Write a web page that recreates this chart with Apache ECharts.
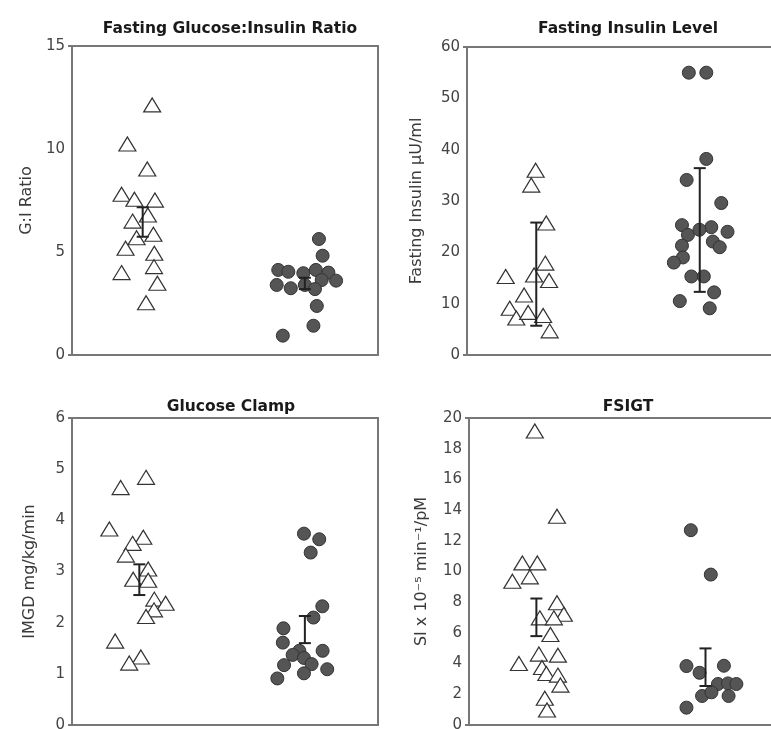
<!DOCTYPE html>
<html>
<head>
<meta charset="utf-8">
<script src="https://cdn.jsdelivr.net/npm/echarts@6/dist/echarts.min.js"></script>
<style>
  html, body { margin: 0; padding: 0; background: #fff; }
  #chart { width: 771px; height: 729px; }
</style>
</head>
<body>
<div id="chart"></div>
<script>
// x values are horizontal jitter on a hidden 0-100 axis (left group ~20, right group ~75)

// Fasting Glucose:Insulin Ratio
const giTriX = [26.2, 18.1, 24.6, 16.2, 20.4, 27.1, 19.8, 24.8, 21.1, 26.6, 17.5, 26.9, 16.2, 26.8, 27.9, 24.2]
const giTriY = [12.14, 10.24, 9.03, 7.80, 7.56, 7.52, 6.50, 6.80, 5.69, 5.86, 5.18, 4.94, 4.00, 4.29, 3.48, 2.54]
const giDotX = [80.7, 81.9, 67.4, 70.7, 75.6, 79.7, 83.8, 86.3, 81.6, 66.9, 71.5, 76.1, 79.4, 80.0, 78.9, 68.9]
const giDotY = [5.63, 4.82, 4.13, 4.04, 3.97, 4.13, 4.00, 3.61, 3.64, 3.40, 3.24, 3.40, 3.20, 2.38, 1.42, 0.94]
const giBars = [[23.1, 5.74, 7.17], [76.1, 3.20, 3.75]]

// Fasting Insulin Level
const insTriX = [22.0, 20.6, 25.4, 25.1, 12.4, 21.5, 26.3, 18.3, 13.7, 15.8, 19.6, 24.4, 26.5]
const insTriY = [36.0, 33.1, 25.7, 17.9, 15.3, 15.6, 14.5, 11.7, 9.1, 7.2, 8.3, 7.7, 4.7]
const insDotX = [71.1, 76.7, 76.7, 70.4, 81.5, 68.9, 78.3, 70.8, 74.5, 83.5, 78.8, 68.9, 81.0, 69.2, 66.3, 71.9, 75.9, 79.2, 68.2, 77.8]
const insDotY = [55.0, 55.0, 38.2, 34.1, 29.6, 25.3, 24.9, 23.4, 24.4, 24.0, 22.1, 21.3, 21.0, 19.0, 18.0, 15.3, 15.3, 12.2, 10.5, 9.1]
const insBars = [[22.2, 5.7, 25.8], [74.6, 12.3, 36.4]]

// Glucose Clamp
const clTriX = [24.2, 15.9, 12.2, 23.3, 19.8, 17.6, 24.9, 20.0, 24.9, 26.9, 30.6, 26.8, 24.2, 14.1, 22.5, 18.7]
const clTriY = [4.84, 4.64, 3.83, 3.67, 3.55, 3.32, 3.05, 2.85, 2.83, 2.46, 2.38, 2.25, 2.12, 1.64, 1.33, 1.21]
const clDotX = [75.8, 80.8, 78.0, 81.8, 78.9, 69.1, 68.9, 81.9, 74.3, 72.1, 75.8, 69.3, 78.3, 83.4, 75.8, 67.1]
const clDotY = [3.74, 3.63, 3.37, 2.32, 2.10, 1.89, 1.61, 1.45, 1.45, 1.37, 1.31, 1.17, 1.19, 1.09, 1.01, 0.91]
const clBars = [[22.0, 2.54, 3.14], [76.1, 1.60, 2.13]]

// FSIGT
const fsTriX = [21.1, 28.2, 17.1, 21.9, 13.9, 19.5, 28.2, 30.4, 22.7, 27.2, 26.1, 16.0, 22.4, 28.5, 23.4, 24.8, 28.5, 29.3, 24.3, 25.0]
const fsTriY = [19.15, 13.6, 10.56, 10.56, 9.37, 9.65, 7.96, 7.22, 6.98, 6.98, 5.90, 4.01, 4.62, 4.55, 3.75, 3.36, 3.25, 2.60, 1.74, 0.98]
const fsDotX = [71.1, 77.5, 69.7, 73.9, 81.7, 79.8, 83.0, 85.7, 74.7, 77.7, 83.2, 69.7]
const fsDotY = [12.69, 9.80, 3.84, 3.40, 3.86, 2.67, 2.71, 2.67, 1.89, 2.13, 1.89, 1.13]
const fsBars = [[21.6, 5.79, 8.24], [75.8, 2.54, 4.99]]

const titles = ['Fasting Glucose:Insulin Ratio', 'Fasting Insulin Level', 'Glucose Clamp', 'FSIGT']
const yNames = ['G:I Ratio', 'Fasting Insulin \u00b5U/ml', 'IMGD mg/kg/min', 'SI x 10\u207b\u2075 min\u207b\u00b9/pM']
const yMax = [15, 60, 6, 20]
const yStep = [5, 10, 1, 2]

const panels = [
  { triX: giTriX, triY: giTriY, dotX: giDotX, dotY: giDotY, bars: giBars },
  { triX: insTriX, triY: insTriY, dotX: insDotX, dotY: insDotY, bars: insBars },
  { triX: clTriX, triY: clTriY, dotX: clDotX, dotY: clDotY, bars: clBars },
  { triX: fsTriX, triY: fsTriY, dotX: fsDotX, dotY: fsDotY, bars: fsBars },
]

// layout
const grids = [
  { left: 72, top: 46, width: 306, height: 309 },
  { left: 467, top: 47, width: 312, height: 308 },
  { left: 72, top: 418, width: 306, height: 307 },
  { left: 469, top: 418, width: 312, height: 307 },
]
const titlePos = [[225, 16], [623, 16], [226, 394], [623, 394]]
const nameGaps = [37, 42, 34, 39]

const frameColor = '#777'
const labelFont = '"DejaVu Sans", sans-serif'

function errRender(params, api) {
  const x = api.value(0)
  const lo = api.coord([x, api.value(1)])
  const hi = api.coord([x, api.value(2)])
  const w = 6
  const style = { stroke: '#222', lineWidth: 2 }
  return {
    type: 'group',
    children: [
      { type: 'line', shape: { x1: lo[0], y1: lo[1], x2: hi[0], y2: hi[1] }, style },
      { type: 'line', shape: { x1: lo[0] - w, y1: lo[1], x2: lo[0] + w, y2: lo[1] }, style },
      { type: 'line', shape: { x1: hi[0] - w, y1: hi[1], x2: hi[0] + w, y2: hi[1] }, style },
    ],
  }
}

const option = {
  animation: false,
  backgroundColor: '#fff',
  title: titles.map((t, i) => ({
    text: t,
    left: titlePos[i][0],
    top: titlePos[i][1],
    textAlign: 'center',
    textStyle: { fontFamily: '"DejaVu Sans", sans-serif', fontWeight: 'bold', fontSize: 15.5, color: '#1a1a1a' },
  })),
  grid: grids.map(g => ({
    ...g,
    show: true,
    outerBoundsMode: 'none',
    containLabel: false,
    borderColor: frameColor,
    borderWidth: 2,
    backgroundColor: 'transparent',
  })),
  xAxis: grids.map((g, i) => ({
    type: 'value', gridIndex: i, min: 0, max: 100, show: false,
  })),
  yAxis: grids.map((g, i) => ({
    type: 'value',
    gridIndex: i,
    min: 0,
    max: yMax[i],
    interval: yStep[i],
    name: yNames[i],
    nameLocation: 'middle',
    nameGap: nameGaps[i],
    nameTextStyle: { fontFamily: labelFont, fontSize: 16, color: '#3a3a3a' },
    axisLine: { show: true, lineStyle: { color: frameColor, width: 2 } },
    axisTick: { show: true, length: 4, customValues: [0, yMax[i]], lineStyle: { color: frameColor, width: 2 } },
    axisLabel: { fontFamily: labelFont, fontSize: 15, color: '#444', margin: 7 },
    splitLine: { show: false },
  })),
  series: [],
}

panels.forEach((p, i) => {
  option.series.push({
    type: 'scatter',
    xAxisIndex: i, yAxisIndex: i,
    symbol: 'triangle',
    symbolSize: [17, 14],
    itemStyle: { color: '#fff', borderColor: '#333', borderWidth: 1.2, opacity: 1 },
    data: p.triX.map((x, k) => [x, p.triY[k]]),
    z: 2,
  })
  option.series.push({
    type: 'scatter',
    xAxisIndex: i, yAxisIndex: i,
    symbol: 'circle',
    symbolSize: 13,
    itemStyle: { color: '#555', borderColor: '#333', borderWidth: 1, opacity: 1 },
    data: p.dotX.map((x, k) => [x, p.dotY[k]]),
    z: 2,
  })
  option.series.push({
    type: 'custom',
    xAxisIndex: i, yAxisIndex: i,
    renderItem: errRender,
    encode: { x: 0, y: [1, 2] },
    data: p.bars,
    z: 5,
  })
})

const chart = echarts.init(document.getElementById('chart'), null, { renderer: 'canvas' })
chart.setOption(option)
</script>
</body>
</html>
